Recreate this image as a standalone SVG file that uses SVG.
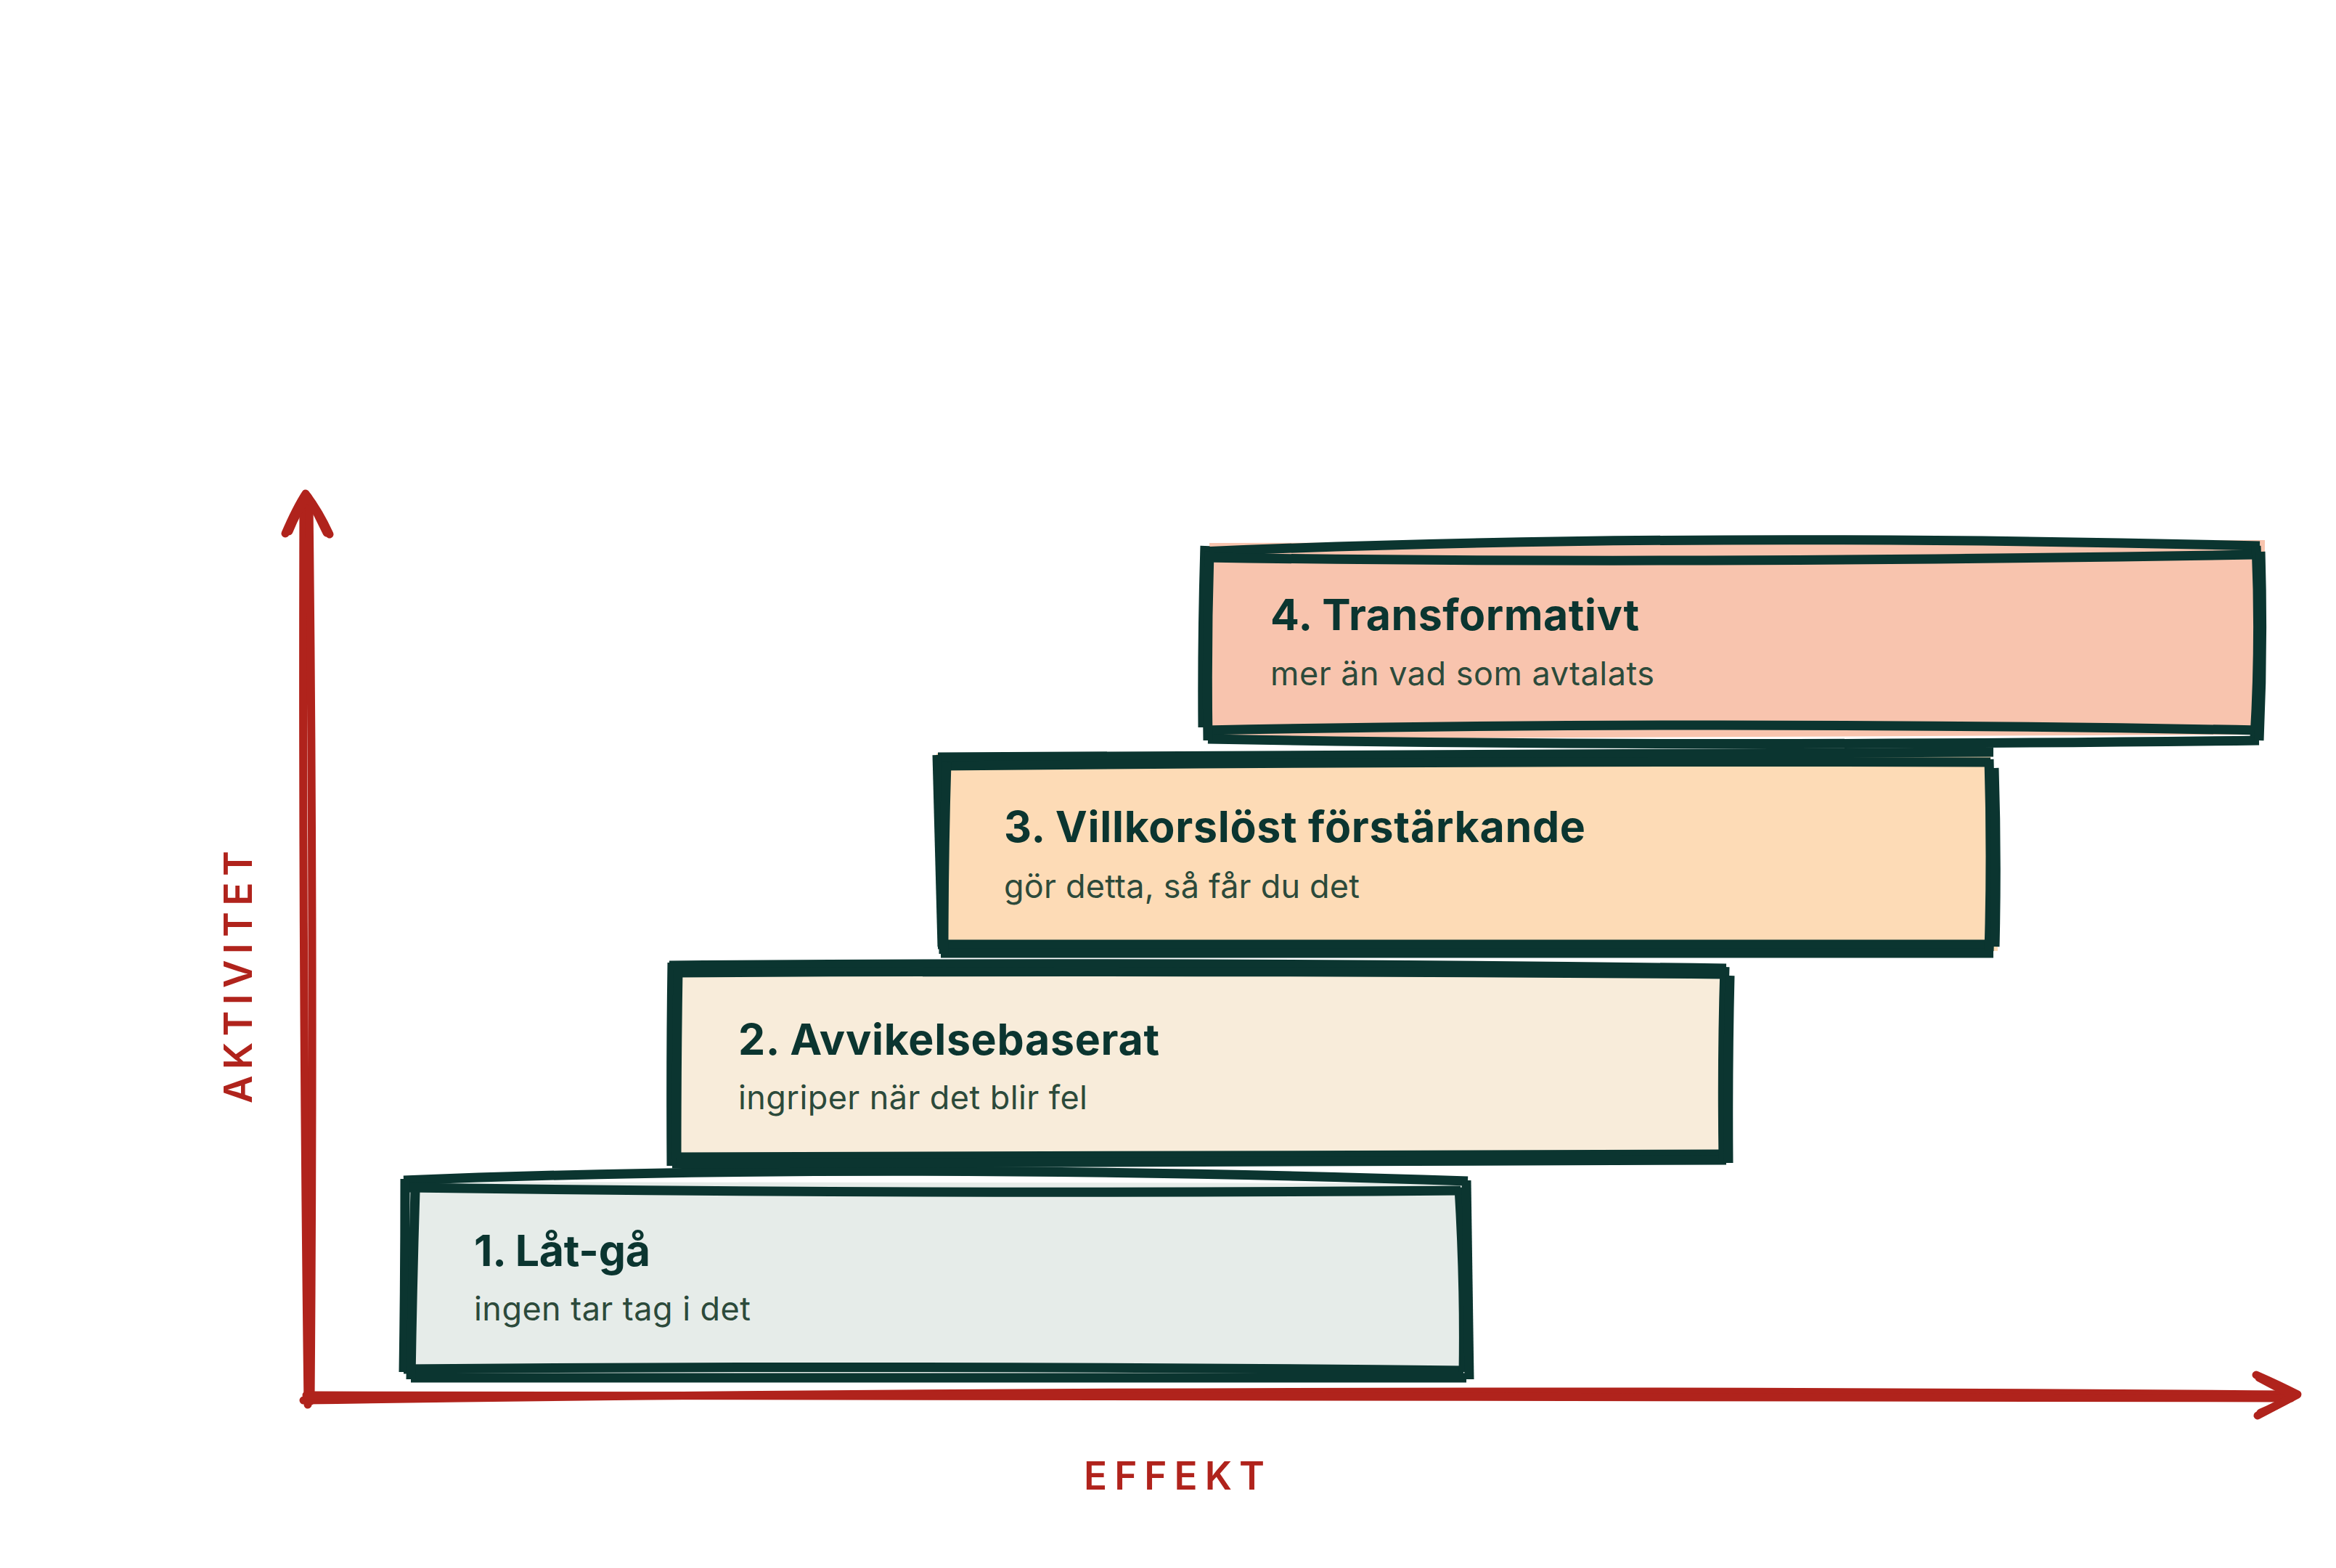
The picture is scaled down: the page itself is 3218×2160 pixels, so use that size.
<svg xmlns="http://www.w3.org/2000/svg" width="3218" height="2160" viewBox="0 0 3218 2160">
<style>
.s{fill:none;stroke:#0B3530;stroke-width:13;stroke-linecap:butt}
.ax{fill:none;stroke:#B0231C;stroke-width:11;stroke-linecap:round;stroke-linejoin:round}
.t{font-family:Inter,"Liberation Sans",sans-serif;font-weight:700;font-size:59px;fill:#0B3530}
.st{font-family:Inter,"Liberation Sans",sans-serif;font-weight:400;font-size:45px;fill:#2C4A3B}
.al{font-family:Inter,"Liberation Sans",sans-serif;font-weight:600;font-size:53px;fill:#B0231C}
</style>
<rect width="3218" height="2160" fill="#ffffff"/>
<g id="axes">
<path class="ax" d="M424,1935 Q416,1300 418,690"/>
<path class="ax" d="M428,1930 Q433,1300 426,695"/>
<path class="ax" d="M393,735 Q408,700 421,680 Q440,705 454,736"/>
<path class="ax" d="M398,732 Q410,702 424,684 Q438,708 450,734"/>
<path class="ax" d="M418,1929 Q1700,1910 3160,1921"/>
<path class="ax" d="M422,1922 Q1800,1920 3156,1926"/>
<path class="ax" d="M3108,1894 Q3140,1908 3165,1921 Q3136,1936 3110,1950"/>
<path class="ax" d="M3112,1898 Q3138,1912 3160,1923 Q3134,1938 3114,1946"/>
</g>
<g id="label-effekt"><text class="al" x="1493" y="2052" textLength="249" lengthAdjust="spacing">EFFEKT</text></g>
<g id="label-aktivitet"><text class="al" transform="translate(347,1520) rotate(-90)" x="0" y="0" textLength="348" lengthAdjust="spacing">AKTIVITET</text></g>
<g id="box1">
<path d="M562,1628 L2016,1630 L2020,1894 L560,1896 Z" fill="#E6ECE9"/>
<path class="s" d="M556,1626 Q1200,1600 2022,1627"/>
<path class="s" d="M562,1636 Q1300,1646 2012,1640"/>
<path class="s" d="M556,1886 Q1300,1880 2016,1888"/>
<path class="s" d="M566,1898 Q1300,1898 2020,1898"/>
<path class="s" d="M558,1624 Q558,1760 556,1890"/>
<path class="s" d="M572,1640 Q568,1770 566,1900"/>
<path class="s" d="M2010,1636 Q2018,1770 2016,1890"/>
<path class="s" d="M2020,1626 Q2022,1760 2024,1900"/>
<text class="t" x="653" y="1744" textLength="243" lengthAdjust="spacing">1. Låt-gå</text>
<text class="st" x="653" y="1819" textLength="381" lengthAdjust="spacing">ingen tar tag i det</text>
</g>
<g id="box2">
<path d="M924,1328 L2378,1330 L2384,1600 L926,1604 Z" fill="#F8ECDA"/>
<path class="s" d="M922,1330 Q1600,1324 2378,1334"/>
<path class="s" d="M930,1340 Q1600,1336 2372,1342"/>
<path class="s" d="M928,1594 Q1600,1592 2372,1590"/>
<path class="s" d="M926,1603 Q1700,1602 2378,1598"/>
<path class="s" d="M926,1326 Q924,1460 925,1606"/>
<path class="s" d="M934,1336 Q932,1460 932,1596"/>
<path class="s" d="M2376,1332 Q2372,1460 2374,1596"/>
<path class="s" d="M2383,1344 Q2380,1470 2381,1602"/>
<text class="t" x="1017" y="1453" textLength="580" lengthAdjust="spacing">2. Avvikelsebaserat</text>
<text class="st" x="1017" y="1528" textLength="481" lengthAdjust="spacing">ingriper när det blir fel</text>
</g>
<g id="box3">
<path d="M1290,1038 L2742,1034 L2752,1310 L1296,1312 Z" fill="#FDDBB6"/>
<path class="s" d="M1292,1043 Q2000,1038 2746,1036"/>
<path class="s" d="M1296,1055 Q2000,1048 2742,1050"/>
<path class="s" d="M1292,1301 Q2000,1301 2742,1301"/>
<path class="s" d="M1296,1313 Q2000,1314 2746,1313"/>
<path class="s" d="M1291,1040 Q1295,1180 1298,1304"/>
<path class="s" d="M1304,1050 Q1300,1180 1300,1314"/>
<path class="s" d="M2740,1046 Q2744,1180 2740,1310"/>
<path class="s" d="M2747,1058 Q2751,1180 2748,1304"/>
<text class="t" x="1383" y="1160" textLength="801" lengthAdjust="spacing">3. Villkorslöst förstärkande</text>
<text class="st" x="1383" y="1237" textLength="490" lengthAdjust="spacing">gör detta, så får du det</text>
</g>
<g id="box4">
<path d="M1666,748 L3120,744 L3118,1012 L1664,1018 Z" fill="#F8C4AE"/>
<path class="s" d="M1655,760 Q2300,732 3113,752"/>
<path class="s" d="M1660,768 Q2300,778 3105,764"/>
<path class="s" d="M1660,1006 Q2350,992 3112,1006"/>
<path class="s" d="M1664,1018 Q2300,1030 3112,1020"/>
<path class="s" d="M1660,752 Q1656,880 1657,1002"/>
<path class="s" d="M1666,760 Q1662,890 1664,1020"/>
<path class="s" d="M3108,752 Q3114,880 3106,1016"/>
<path class="s" d="M3114,760 Q3118,890 3112,1020"/>
<text class="t" x="1750" y="868" textLength="508" lengthAdjust="spacing">4. Transformativt</text>
<text class="st" x="1750" y="944" textLength="529" lengthAdjust="spacing">mer än vad som avtalats</text>
</g>
</svg>
